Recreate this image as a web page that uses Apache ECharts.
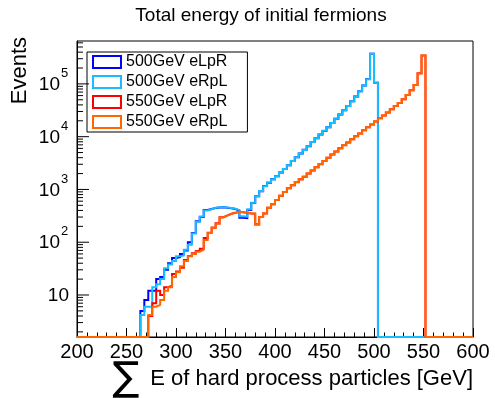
<!DOCTYPE html>
<html>
<head>
<meta charset="utf-8">
<script src="https://cdn.jsdelivr.net/npm/echarts@6/dist/echarts.min.js"></script>
<style>
html,body{margin:0;padding:0;background:#fff;}
#c{width:495px;height:398px;}
</style>
</head>
<body>
<div id="c"></div>
<script>
// ---------- data ----------
const chartTitle = 'Total energy of initial fermions';
const xTitle = 'E of hard process particles [GeV]';
const yTitle = 'Events';
const seriesNames = ['500GeV eLpR', '500GeV eRpL', '550GeV eLpR', '550GeV eRpL'];
const seriesColors = ['#0000ff', '#18bdff', '#ff0000', '#ff6600'];

const histMin = 200, histMax = 600, binWidth = 4;   // GeV
const xTickValues = [200, 250, 300, 350, 400, 450, 500, 550, 600];
const yMajorTicks = [10, 100, 1000, 10000, 100000];
const yMinorMultipliers = [2, 3, 4, 5, 6, 7, 8, 9];
const yRange = [1.6, 6.5e5];

// first non-empty bin (lower edge, GeV) of each beam energy
const firstBin500 = 264;
const firstBin550 = 272;

const eLpR500 = [5, 8, 12, 12, 20, 22, 30, 40, 50, 52,
  60, 70, 100, 150, 250, 300, 410, 425, 445, 455,
  458, 450, 440, 425, 400, 290, 285, 410, 555, 745,
  920, 1160, 1340, 1560, 1770, 2100, 2440, 2890, 3460, 4080,
  4780, 5640, 6600, 7960, 9320, 10980, 12860, 15160, 18180, 21950,
  26250, 31650, 37950, 46850, 57400, 72500, 93200, 123500, 371000, 105500];
const eRpL500 = [4.2, 6, 6, 14, 16, 20, 32, 38, 44, 54,
  56, 72, 90, 147, 245, 306, 400, 420, 450, 460,
  462, 455, 445, 430, 405, 310, 305, 420, 560, 740,
  930, 1150, 1350, 1550, 1780, 2090, 2450, 2880, 3470, 4070,
  4790, 5620, 6610, 7940, 9330, 10960, 12880, 15140, 18200, 21900,
  26300, 31600, 38000, 46800, 57500, 72400, 93300, 123000, 372000, 105000];
const eLpR550 = [4, 7, 12, 10, 14, 15, 25, 28, 33, 46,
  55, 62, 68, 75, 120, 152, 188, 228, 298, 322,
  347, 362, 376, 368, 358, 352, 348, 218, 302, 352,
  452, 523, 632, 758, 892, 1048, 1205, 1375, 1555, 1738,
  2005, 2285, 2635, 3015, 3475, 3975, 4575, 5245, 6035, 6915,
  7770, 8900, 10240, 11470, 13190, 15130, 16990, 19490, 22400, 25110,
  28850, 33100, 38030, 43640, 51300, 61650, 75870, 95400, 158500, 346000];
const eRpL550 = [4.2, 6, 6.5, 8, 12, 14, 22, 27, 35, 44,
  54, 60, 66, 72, 110, 150, 190, 225, 295, 320,
  345, 360, 375, 370, 360, 355, 350, 215, 300, 355,
  450, 525, 630, 760, 890, 1050, 1200, 1380, 1550, 1740,
  2000, 2290, 2630, 3020, 3470, 3980, 4570, 5250, 6030, 6920,
  7760, 8910, 10230, 11480, 13180, 15140, 16980, 19500, 22390, 25120,
  28840, 33110, 38020, 43650, 51290, 61660, 75860, 95500, 158000, 347000];

// ---------- build step outlines from the bins ----------
const FLOOR = yRange[0];
function stepPoints(start, vals) {
  const pts = [[histMin, FLOOR], [start, FLOOR]];
  vals.forEach(function (v, i) {
    const lo = start + i * binWidth;
    pts.push([lo, v]);
    pts.push([lo + binWidth, v]);
  });
  const end = start + vals.length * binWidth;
  pts.push([end, FLOOR]);
  pts.push([histMax, FLOOR]);
  return pts;
}
const seriesData = [
  stepPoints(firstBin500, eLpR500),
  stepPoints(firstBin500, eRpL500),
  stepPoints(firstBin550, eLpR550),
  stepPoints(firstBin550, eRpL550)
];

const yTickData = [];
yMajorTicks.forEach(function (t) { yTickData.push([histMin, t, 1]); });
[1, 10, 100, 1000, 10000, 100000].forEach(function (dec) {
  yMinorMultipliers.forEach(function (m) {
    const v = m * dec;
    if (v > yRange[0] && v < yRange[1]) yTickData.push([histMin, v, 0]);
  });
});
const yLabelData = yMajorTicks.map(function (t) { return [histMin, t, Math.round(Math.log10(t))]; });

const FONT = '"Liberation Sans", Arial, Helvetica, sans-serif';

const chart = echarts.init(document.getElementById('c'), null, { renderer: 'canvas' });

const series = seriesNames.map(function (name, i) {
  return {
    name: name,
    type: 'line',
    data: seriesData[i],
    showSymbol: false,
    symbol: 'none',
    clip: false,
    color: seriesColors[i],
    lineStyle: { width: 2, color: seriesColors[i], join: 'miter' },
    z: 3 + i,
    animation: false
  };
});

series.push({
  type: 'custom',
  name: 'yticks',
  data: yTickData,
  encode: { x: 0, y: 1 },
  silent: true,
  animation: false,
  z: 10,
  renderItem: function (params, api) {
    const p = api.coord([api.value(0), api.value(1)]);
    const len = api.value(2) ? 12 : 6;
    return {
      type: 'line',
      shape: { x1: p[0], y1: p[1], x2: p[0] + len, y2: p[1] },
      style: { stroke: '#000', lineWidth: 1 }
    };
  }
});

series.push({
  type: 'custom',
  name: 'ylabels',
  data: yLabelData,
  encode: { x: 0, y: 1 },
  silent: true,
  animation: false,
  z: 10,
  renderItem: function (params, api) {
    const p = api.coord([api.value(0), api.value(1)]);
    const e = api.value(2);
    if (e === 1) {
      return {
        type: 'text', x: p[0] - 8, y: p[1] + 1,
        style: { text: '10', align: 'right', verticalAlign: 'middle', font: '19px ' + FONT, fill: '#000' }
      };
    }
    return {
      type: 'group',
      children: [
        { type: 'text', x: p[0] - 17, y: p[1] + 1,
          style: { text: '10', align: 'right', verticalAlign: 'middle', font: '19px ' + FONT, fill: '#000' } },
        { type: 'text', x: p[0] - 16, y: p[1] - 4,
          style: { text: String(e), align: 'left', verticalAlign: 'bottom', font: '13px ' + FONT, fill: '#000' } }
      ]
    };
  }
});

chart.setOption({
  animation: false,
  backgroundColor: '#fff',
  textStyle: { fontFamily: FONT },
  grid: {
    left: 77, right: 22, top: 41, bottom: 61,
    show: true, borderColor: '#000', borderWidth: 1, backgroundColor: 'transparent'
  },
  legend: {
    orient: 'vertical',
    left: 87, top: 52,
    data: seriesNames.map(function (n, i) {
      return {
        name: n, icon: 'rect',
        itemStyle: { color: 'rgba(255,255,255,0)', borderColor: seriesColors[i], borderWidth: 2, opacity: 1 }
      };
    }),
    itemWidth: 28, itemHeight: 12, itemGap: 2,
    textStyle: { fontSize: 16, color: '#000', fontFamily: FONT, lineHeight: 18 },
    borderColor: '#000', borderWidth: 1,
    padding: [1, 20, 1, 5],
    backgroundColor: '#fff',
    selectedMode: false
  },
  xAxis: {
    type: 'value', min: histMin, max: histMax, interval: 50,
    axisLine: { show: true, lineStyle: { color: '#000', width: 1 } },
    axisTick: { show: true, inside: true, length: 9, lineStyle: { color: '#000' } },
    minorTick: { show: true, splitNumber: 5, length: 4.5, lineStyle: { color: '#000' } },
    axisLabel: {
      fontSize: 20, color: '#000', margin: 5, fontFamily: FONT,
      formatter: function (v) { return xTickValues.indexOf(v) >= 0 ? String(v) : ''; }
    },
    splitLine: { show: false }
  },
  yAxis: {
    type: 'log', logBase: 10, min: yRange[0], max: yRange[1],
    axisLine: { show: true, lineStyle: { color: '#000', width: 1 } },
    axisTick: { show: false },
    minorTick: { show: false },
    axisLabel: { show: false },
    splitLine: { show: false }
  },
  graphic: [
    { type: 'text', x: 261, y: 6, style: { text: chartTitle, align: 'center', verticalAlign: 'top', font: '19px ' + FONT, fill: '#000' } },
    { type: 'text', x: 20, y: 37, rotation: Math.PI / 2,
      style: { text: yTitle, align: 'right', verticalAlign: 'middle', font: '22px ' + FONT, fill: '#000' } },
    { type: 'text', x: 473, y: 379,
      style: { text: xTitle, align: 'right', verticalAlign: 'middle', font: '22px ' + FONT, fill: '#000' } },
    { type: 'text', x: 126, y: 380,
      style: { text: '\u2211', align: 'center', verticalAlign: 'middle', font: '40px "DejaVu Sans", ' + FONT, fill: '#000' } }
  ],
  series: series
});
</script>
</body>
</html>
